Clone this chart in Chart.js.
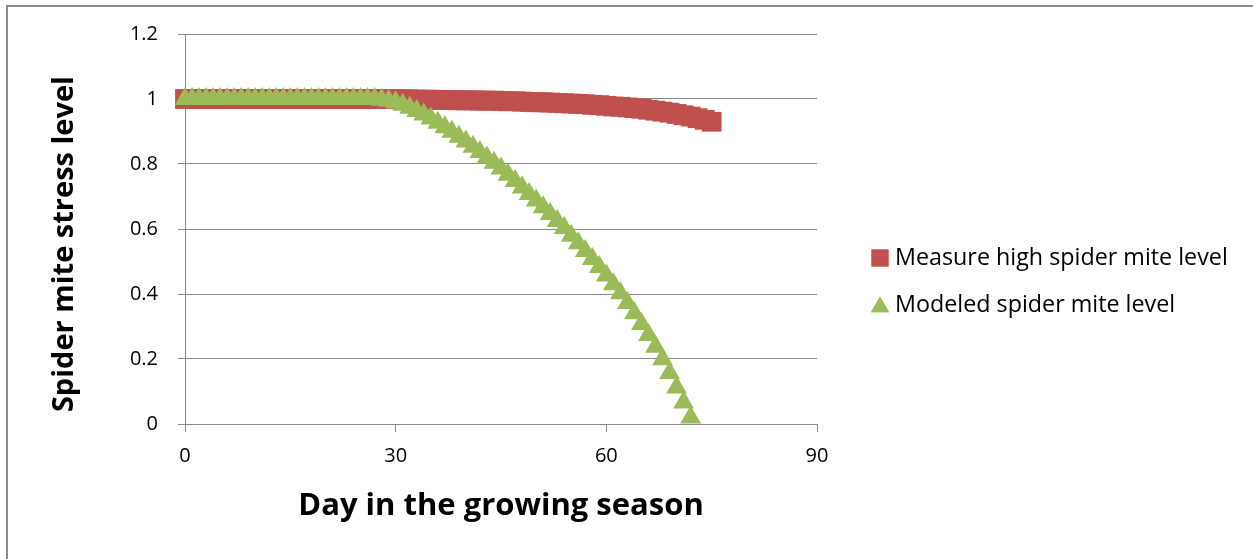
<!DOCTYPE html>
<html>
<head>
<meta charset="utf-8">
<script src="https://cdn.jsdelivr.net/npm/chart.js@4"></script>
<style>
  html, body { margin: 0; padding: 0; background: #fff; }
  #wrap { width: 1253px; height: 559px; position: relative; }
</style>
</head>
<body>
<div id="wrap"><canvas id="miteChart"></canvas></div>
<script>
// Days in the growing season (x values)
const measuredDays = [
  0, 1, 2, 3, 4, 5, 6, 7, 8, 9, 10, 11, 12, 13, 14, 15, 16, 17, 18, 19,
  20, 21, 22, 23, 24, 25, 26, 27, 28, 29, 30, 31, 32, 33, 34, 35, 36, 37, 38, 39,
  40, 41, 42, 43, 44, 45, 46, 47, 48, 49, 50, 51, 52, 53, 54, 55, 56, 57, 58, 59,
  60, 61, 62, 63, 64, 65, 66, 67, 68, 69, 70, 71, 72, 73, 74, 75
];
const measuredLevel = [
  1, 1, 1, 1, 1, 1, 1, 1, 1, 1, 1, 1, 1, 1, 1, 1, 1, 1, 1, 1,
  1, 1, 1, 1, 1, 1, 1, 1, 1, 1, 1, 0.999, 0.999, 0.998, 0.998, 0.998, 0.997, 0.997, 0.997, 0.996,
  0.996, 0.996, 0.995, 0.995, 0.995, 0.994, 0.993, 0.993, 0.992, 0.991, 0.990, 0.990, 0.989, 0.988, 0.987, 0.986, 0.985, 0.984, 0.982, 0.981,
  0.979, 0.977, 0.976, 0.974, 0.972, 0.970, 0.967, 0.964, 0.961, 0.958, 0.954, 0.950, 0.946, 0.941, 0.936, 0.930
];

const modeledDays = [
  0, 1, 2, 3, 4, 5, 6, 7, 8, 9, 10, 11, 12, 13, 14, 15, 16, 17, 18, 19,
  20, 21, 22, 23, 24, 25, 26, 27, 28, 29, 30, 31, 32, 33, 34, 35, 36, 37, 38, 39,
  40, 41, 42, 43, 44, 45, 46, 47, 48, 49, 50, 51, 52, 53, 54, 55, 56, 57, 58, 59,
  60, 61, 62, 63, 64, 65, 66, 67, 68, 69, 70, 71, 72
];
const modeledLevel = [
  1, 1, 1, 1, 1, 1, 1, 1, 1, 1, 1, 1, 1, 1, 1, 1, 1, 1, 1, 1,
  1, 1, 1, 1, 1, 1, 1, 1, 0.998, 0.995, 0.990, 0.982, 0.973, 0.963, 0.952, 0.940, 0.927, 0.913, 0.899, 0.884,
  0.869, 0.853, 0.837, 0.820, 0.804, 0.786, 0.767, 0.748, 0.728, 0.708, 0.688, 0.667, 0.646, 0.625, 0.603, 0.579, 0.556, 0.532, 0.508, 0.483,
  0.457, 0.430, 0.402, 0.372, 0.341, 0.308, 0.274, 0.238, 0.199, 0.157, 0.112, 0.066, 0.020
];

const xTicks = [0, 30, 60, 90];
const yTicks = [0, 0.2, 0.4, 0.6, 0.8, 1, 1.2];

const seriesNames = ['Measure high spider mite level', 'Modeled spider mite level'];
const seriesColors = ['#C0504D', '#9BBB59'];

const FONT = '"Open Sans", sans-serif';
const GRID = '#888888';

function toPoints(xs, ys) {
  return xs.map((x, i) => ({ x: x, y: ys[i] }));
}

// outer frame (only the left and top edges are visible in the picture)
const framePlugin = {
  id: 'frame',
  beforeDraw(chart) {
    const ctx = chart.ctx;
    ctx.save();
    ctx.fillStyle = '#fff';
    ctx.fillRect(0, 0, chart.width, chart.height);
    ctx.strokeStyle = '#8c8c8c';
    ctx.lineWidth = 2;
    ctx.beginPath();
    ctx.moveTo(7, chart.height);
    ctx.lineTo(7, 6);
    ctx.lineTo(chart.width, 6);
    ctx.stroke();
    ctx.restore();
  }
};

// legend drawn to the right of the plot, like the spreadsheet one
const sideLegend = {
  id: 'sideLegend',
  afterDraw(chart) {
    const ctx = chart.ctx;
    const rows = [258, 305];
    ctx.save();
    ctx.font = '23.3px ' + FONT;
    ctx.textBaseline = 'middle';
    chart.data.datasets.slice().sort((a, b) => a.legendIndex - b.legendIndex).forEach((ds, i) => {
      const y = rows[i];
      ctx.fillStyle = ds.backgroundColor;
      if (ds.pointStyle === 'rect') {
        Chart.helpers.drawPoint(ctx, { pointStyle: 'rect', radius: 12, rotation: 0, borderWidth: 0 }, 880, y);
      } else {
        Chart.helpers.drawPoint(ctx, { pointStyle: 'triangle', radius: 10.5, rotation: 0, borderWidth: 0 }, 880, y + 2);
      }
      ctx.fill();
      ctx.fillStyle = '#000';
      ctx.fillText(ds.label, 895, y);
    });
    ctx.restore();
  }
};

const ctx = document.getElementById('miteChart').getContext('2d');
const miteChart = new Chart(ctx, {
  type: 'scatter',
  data: {
    datasets: [
      {
        label: seriesNames[0],
        legendIndex: 0,
        data: toPoints(measuredDays, measuredLevel),
        backgroundColor: seriesColors[0],
        borderColor: seriesColors[0],
        pointStyle: 'rect',
        pointRadius: 14,
        pointBorderWidth: 0,
        showLine: false,
        clip: false,
        order: 1
      },
      {
        label: seriesNames[1],
        legendIndex: 1,
        data: toPoints(modeledDays, modeledLevel),
        backgroundColor: seriesColors[1],
        borderColor: seriesColors[1],
        pointStyle: 'triangle',
        pointRadius: 12,
        pointBorderWidth: 0,
        showLine: false,
        clip: false,
        order: 0
      }
    ]
  },
  options: {
    responsive: true,
    maintainAspectRatio: false,
    animation: false,
    events: [],
    layout: { padding: { left: 43, top: 34, right: 436, bottom: 30 } },
    plugins: {
      legend: { display: false },
      tooltip: { enabled: false }
    },
    scales: {
      x: {
        type: 'linear',
        min: 0,
        max: 90,
        afterBuildTicks: scale => { scale.ticks = xTicks.map(v => ({ value: v })); },
        afterFit: scale => { scale.height = 105; },
        ticks: { font: { family: FONT, size: 20 }, color: '#000', padding: 12 },
        grid: { drawOnChartArea: false, drawTicks: true, tickLength: 8, color: GRID, lineWidth: 1 },
        border: { display: true, color: GRID, width: 1 },
        title: {
          display: true,
          text: 'Day in the growing season',
          font: { family: FONT, size: 31, weight: 'bold' },
          color: '#000',
          padding: { top: 4, bottom: 4 }
        }
      },
      y: {
        min: 0,
        max: 1.2,
        afterBuildTicks: scale => { scale.ticks = yTicks.map(v => ({ value: v })); },
        afterFit: scale => { scale.width = 142; },
        ticks: {
          font: { family: FONT, size: 20 },
          color: '#000',
          padding: 20,
          callback: v => String(Math.round(v * 10) / 10)
        },
        grid: { drawTicks: true, tickLength: 7, color: GRID, lineWidth: 1 },
        border: { display: true, color: GRID, width: 1 },
        title: {
          display: true,
          // trailing spaces nudge the rotated title down a little, as in the original
          text: 'Spider mite stress level    ',
          font: { family: FONT, size: 29, weight: 'bold' },
          color: '#000',
          padding: { top: 4, bottom: 4 }
        }
      }
    }
  },
  plugins: [framePlugin, sideLegend]
});
</script>
</body>
</html>
